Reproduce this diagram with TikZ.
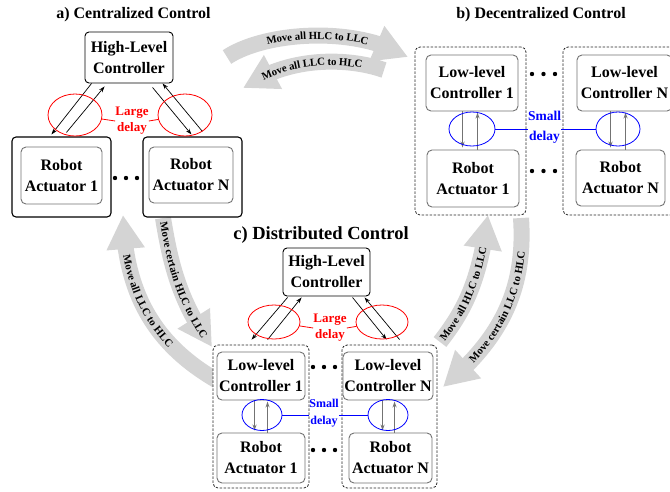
\documentclass[tikz,border=0pt]{standalone}
\usepackage{fontspec}
\setmainfont{Liberation Serif}
\usetikzlibrary{arrows.meta,decorations.text,bending,shapes.geometric,calc}
\begin{document}
\begin{tikzpicture}[x=1pt,y=-1pt,
  boxtxt/.style={font=\fontsize{16}{21}\selectfont\bfseries, align=center},
  hlbox/.style={draw=black, line width=0.9pt, rounded corners=4pt, fill=white, inner sep=0pt, boxtxt},
  gbox/.style={draw=black!55, line width=0.9pt, rounded corners=5pt, fill=white, inner sep=0pt, boxtxt},
  obox/.style={draw=black, line width=1.1pt, rounded corners=4pt, fill=white, inner sep=0pt},
  dbox/.style={draw=black!85, dash pattern=on 2.5pt off 1.5pt, line width=0.8pt, rounded corners=5pt, fill=white, inner sep=0pt},
  band/.style={draw=black!17, line width=16pt, -{Triangle[length=34pt,width=36pt]}},
  bandtext/.style 2 args={decorate, decoration={text along path, text align={#2}, raise=-3.7pt,
      text={|\fontsize{10.8}{11}\selectfont\bfseries|#1}}},
  ttl/.style={font=\fontsize{16}{18}\selectfont\bfseries, inner sep=0pt},
  redel/.style={draw=red, line width=0.8pt, ellipse, inner sep=0pt},
  blueel/.style={draw=blue, line width=0.8pt, ellipse, inner sep=0pt},
  bk/.style={draw=black, line width=0.7pt, -{Stealth[length=6pt,width=4pt]}},
  gr/.style={draw=black!55, line width=1.1pt, -{Stealth[length=6pt,width=4pt]}},
  ldel/.style={text=red, font=\fontsize{13}{16}\selectfont\bfseries, align=center, inner sep=0pt},
  sdel/.style={text=blue, font=\fontsize{13.5}{20}\selectfont\bfseries, align=center, inner sep=0pt},
  redln/.style={draw=red, line width=0.8pt},
  blueln/.style={draw=blue, line width=0.8pt},
]
\useasboundingbox (0,0) rectangle (670,491);

% ---- big gray transition arrows ----
\draw[band] (227,57) .. controls (265,32) and (355,25) .. (408,57);
\path[bandtext={Move all HLC to LLC}{center}] (227,57) .. controls (265,32) and (355,25) .. (408,57);

\draw[band] (384,70) .. controls (350,58) and (290,55) .. (243,88);
\path[bandtext={Move all LLC to HLC}{center}] (243,88) .. controls (290,55) and (350,58) .. (384,70);

\draw[band] (225,385) .. controls (160,350) and (125,300) .. (123,215);
\path[bandtext={Move all LLC to HLC}{left indent=40pt}] (123,215) .. controls (125,300) and (160,350) .. (225,385);

\draw[band] (163,218) .. controls (170,260) and (178,300) .. (212,347);
\path[bandtext={Move certain HLC to LLC}{left indent=4pt}] (163,218) .. controls (170,260) and (178,300) .. (212,347);

\draw[band] (440,342) .. controls (465,310) and (480,280) .. (488,215);
\path[bandtext={Move all HLC to LLC}{left indent=3pt}] (440,342) .. controls (465,310) and (480,280) .. (488,215);

\draw[band] (521,218) .. controls (526,290) and (500,340) .. (443,387);
\path[bandtext={Move certain LLC to HLC}{left indent=38pt}] (443,387) .. controls (500,340) and (526,290) .. (521,218);

% ---- titles ----
\node[ttl] (ta) at (133.5,15) {a) Centralized Control};
\node[ttl] (tb) at (541,15) {b) Decentralized Control};
\node[ttl, font=\fontsize{18.5}{20}\selectfont\bfseries] (tc) at (321,235) {c) Distributed Control};

% ---- a) centralized ----
\node[hlbox, minimum width=88pt, minimum height=51pt] (hla) at (129,57.5) {High-Level\\Controller};
\node[obox, minimum width=99pt, minimum height=80pt] (oa1) at (61.5,177) {};
\node[gbox, minimum width=81pt, minimum height=57pt] (ra1) at (61.5,175.5) {Robot\\Actuator 1};
\node[obox, minimum width=99pt, minimum height=80pt] (oan) at (192.5,177) {};
\node[gbox, minimum width=84pt, minimum height=56pt] (ran) at (191,175) {Robot\\Actuator N};
\fill (115,178) circle[radius=2.2pt] (126,178) circle[radius=2.2pt] (137,178) circle[radius=2.2pt];

\draw[bk] ($(hla.south west)+(7,0)$) -- ($(oa1.north west)+(40,-2)$);
\draw[bk] ($(oa1.north west)+(55,-4)$) -- ($(hla.south west)+(20,3)$);
\draw[bk] ($(hla.south west)+(68,4)$) -- ($(oan.north west)+(49,-2)$);
\draw[bk] ($(oan.north west)+(60,-5)$) -- ($(hla.south west)+(78,0)$);

\node[redel, minimum width=54pt, minimum height=42pt] (ea1) at (75,115) {};
\node[redel, minimum width=54pt, minimum height=42pt] (ea2) at (185,115) {};
\node[ldel] (lda) at (132,121) {Large\\delay};
\draw[redln] (ea1) -- (lda.west);
\draw[redln] (lda.east) -- (ea2);

% ---- b) decentralized ----
\node[dbox, minimum width=111pt, minimum height=168pt] (db1) at (470.5,131) {};
\node[gbox, minimum width=92pt, minimum height=56pt] (llb1) at (472,83) {Low-level\\Controller 1};
\node[gbox, minimum width=92pt, minimum height=57pt] (rab1) at (473,178.5) {Robot\\Actuator 1};
\node[dbox, minimum width=115pt, minimum height=168pt] (db2) at (620.5,131) {};
\node[gbox, minimum width=95pt, minimum height=56pt] (llbn) at (624.5,83) {Low-level\\Controller N};
\node[gbox, minimum width=89pt, minimum height=56pt] (rabn) at (620.5,178) {Robot\\Actuator N};
\fill (532,74) circle[radius=2.2pt] (543.5,74) circle[radius=2.2pt] (555,74) circle[radius=2.2pt];
\fill (532,171) circle[radius=2.2pt] (543.5,171) circle[radius=2.2pt] (555,171) circle[radius=2.2pt];

\draw[gr] ($(llb1.south west)+(37,0)$) -- ($(rab1.north west)+(36,-2)$);
\draw[gr] ($(rab1.north west)+(51,0)$) -- ($(llb1.south west)+(52,1)$);
\draw[gr] ($(llbn.south west)+(34,0)$) -- ($(rabn.north west)+(35,-2)$);
\draw[gr] ($(rabn.north west)+(50,0)$) -- ($(llbn.south west)+(49,1)$);

\node[blueel, minimum width=46pt, minimum height=34pt] (eb1) at (472,129) {};
\node[blueel, minimum width=44pt, minimum height=34pt] (eb2) at (618,129) {};
\node[sdel] (sdb) at (544.5,127) {Small\\delay};
\draw[blueln] (eb1.east) -- (eb1.east -| sdb.west);
\draw[blueln] (eb2.west -| sdb.east) -- (eb2.west);

% ---- c) distributed ----
\node[hlbox, minimum width=87pt, minimum height=48pt] (hlc) at (326.5,272) {High-Level\\Controller};
\node[dbox, minimum width=96pt, minimum height=143pt] (dc1) at (261,416.5) {};
\node[gbox, minimum width=88pt, minimum height=48pt] (llc1) at (261,376) {Low-level\\Controller 1};
\node[gbox, minimum width=88pt, minimum height=50pt] (rac1) at (261,458) {Robot\\Actuator 1};
\node[dbox, minimum width=95pt, minimum height=143pt] (dc2) at (389.5,416.5) {};
\node[gbox, minimum width=90pt, minimum height=48pt] (llcn) at (388,376) {Low-level\\Controller N};
\node[gbox, minimum width=83pt, minimum height=50pt] (racn) at (390.5,458) {Robot\\Actuator N};
\fill (313,367) circle[radius=2.2pt] (324,367) circle[radius=2.2pt] (335,367) circle[radius=2.2pt];
\fill (313,450) circle[radius=2.2pt] (324,450) circle[radius=2.2pt] (335,450) circle[radius=2.2pt];

\draw[bk] ($(hlc.south west)+(5,1)$) -- ($(dc1.north west)+(39,-5)$);
\draw[bk] ($(dc1.north west)+(55,-5)$) -- ($(hlc.south west)+(19,1)$);
\draw[bk] ($(hlc.south west)+(70,1)$) -- ($(dc2.north west)+(45,-5)$);
\draw[bk] ($(dc2.north west)+(58,-5)$) -- ($(hlc.south west)+(82,1)$);

\node[redel, minimum width=52pt, minimum height=34pt] (ec1) at (274,322) {};
\node[redel, minimum width=52pt, minimum height=34pt] (ec2) at (382,322) {};
\node[ldel] (ldc) at (330,328) {Large\\delay};
\draw[redln] (ec1) -- (ldc.west);
\draw[redln] (ldc.east) -- (ec2);

\draw[gr] ($(llc1.south west)+(38,0)$) -- ($(rac1.north west)+(38,-2)$);
\draw[gr] ($(rac1.north west)+(51,0)$) -- ($(llc1.south west)+(51,1)$);
\draw[gr] ($(llcn.south west)+(40,0)$) -- ($(racn.north west)+(34,-2)$);
\draw[gr] ($(racn.north west)+(46,0)$) -- ($(llcn.south west)+(52,1)$);

\node[blueel, minimum width=40pt, minimum height=31pt] (ecb1) at (262,415) {};
\node[blueel, minimum width=40pt, minimum height=31pt] (ecb2) at (388,415) {};
\node[sdel, font=\fontsize{12}{17}\selectfont\bfseries] (sdc) at (324,413) {Small\\delay};
\draw[blueln] (ecb1.east) -- (ecb1.east -| sdc.west);
\draw[blueln] (ecb2.west -| sdc.east) -- (ecb2.west);
\end{tikzpicture}
\end{document}
